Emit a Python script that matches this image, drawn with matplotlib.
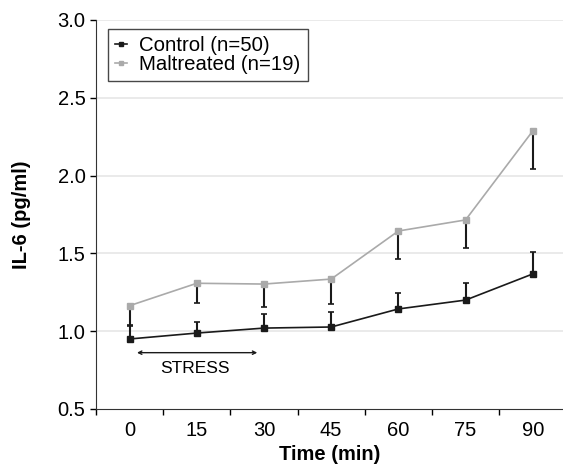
import matplotlib.pyplot as plt
import numpy as np

plt.rcParams['font.family'] = ['Liberation Sans', 'DejaVu Sans']

times = ["0", "15", "30", "45", "60", "75", "90"]
control = [0.95, 0.988, 1.02, 1.027, 1.143, 1.20, 1.368]
control_err = [0.09, 0.07, 0.09, 0.094, 0.10, 0.108, 0.142]
maltreated = [1.164, 1.308, 1.303, 1.335, 1.644, 1.715, 2.287]
maltreated_err = [0.13, 0.128, 0.146, 0.162, 0.178, 0.18, 0.247]

x = np.arange(len(times))

fig = plt.figure(figsize=(5.63, 4.66), dpi=100)
ax = fig.add_axes([96/563, 57/466, 467/563, 389/466])

for yv in [1.0, 1.5, 2.0, 2.5, 3.0]:
    ax.axhline(yv, color='#e6e6e6', linewidth=1.2, zorder=0)

# one-sided error bars: control up, maltreated down
ax.errorbar(x, maltreated, yerr=[maltreated_err, np.zeros(len(x))], fmt='none',
            ecolor='#1a1a1a', elinewidth=1.5, capsize=2, capthick=1.2, zorder=2)
ax.errorbar(x, control, yerr=[np.zeros(len(x)), control_err], fmt='none',
            ecolor='#1a1a1a', elinewidth=1.5, capsize=2, capthick=1.2, zorder=2)

ax.plot(x, control, color='#1a1a1a', linewidth=1.2, marker='s', markersize=4.5,
        label='Control (n=50)', zorder=3)
ax.plot(x, maltreated, color='#aaaaaa', linewidth=1.2, marker='s', markersize=4.5,
        label='Maltreated (n=19)', zorder=3)

ax.set_xlim(-0.5, 6.45)
ax.set_ylim(0.5, 3.0)
ax.set_yticks([0.5, 1.0, 1.5, 2.0, 2.5, 3.0])
ax.set_yticklabels(['0.5', '1.0', '1.5', '2.0', '2.5', '3.0'])
ax.set_xticks(np.arange(-0.5, 6.5, 1.0))
ax.set_xticklabels([])
ax.set_xticks(x, minor=True)
ax.set_xticklabels(times, minor=True)
ax.tick_params(axis='x', which='minor', length=0, labelsize=14.5, pad=9)
ax.tick_params(axis='x', which='major', length=4, width=1, direction='out')
ax.tick_params(axis='y', length=4, width=1, direction='out', labelsize=14.5)

for s in ['top', 'right']:
    ax.spines[s].set_visible(False)
ax.spines['left'].set_color('#333333')
ax.spines['bottom'].set_color('#333333')

ax.annotate('', xy=(0.11, 0.862), xytext=(1.9, 0.862),
            arrowprops=dict(arrowstyle='<->', color='#1a1a1a', lw=1.0,
                            mutation_scale=6, shrinkA=0, shrinkB=0))
ax.text(0.97, 0.76, 'STRESS', ha='center', va='center', fontsize=12.5)

ax.set_xlabel('Time (min)', fontsize=14.5, fontweight='bold', labelpad=3)
ax.set_ylabel('IL-6 (pg/ml)', fontsize=14.5, fontweight='bold', labelpad=19)

leg = ax.legend(loc='upper left', bbox_to_anchor=(0.025, 0.978), fontsize=14.7,
                frameon=True, fancybox=False, handlelength=0.6, handletextpad=0.6,
                borderpad=0.35, labelspacing=0.0, markerscale=0.6, borderaxespad=0)
leg.get_frame().set_edgecolor('#1a1a1a')
leg.get_frame().set_linewidth(1.0)

plt.savefig('out.png', dpi=100)
